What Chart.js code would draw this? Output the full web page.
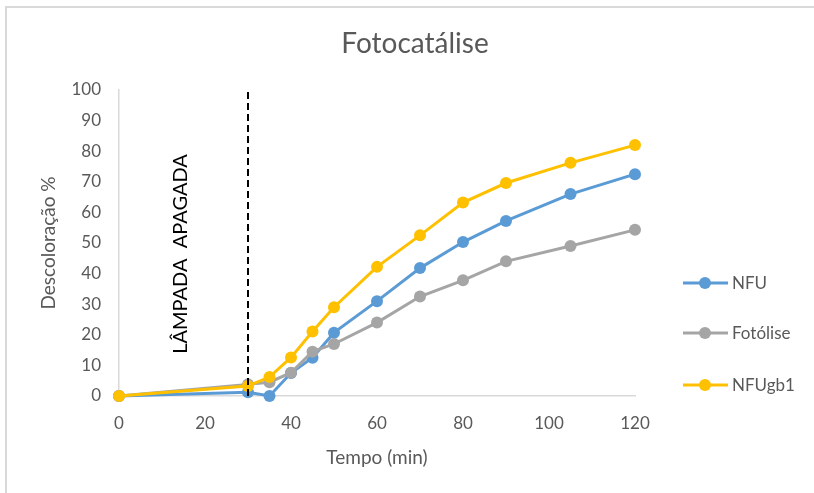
<!DOCTYPE html>
<html lang="pt">
<head>
    <meta charset="UTF-8">
    <title>Fotocatálise</title>
    <script src="https://cdn.jsdelivr.net/npm/chart.js"></script>
    <style>
        body {
            margin: 0;
            background: #ffffff;
        }
        #wrap {
            position: relative;
            width: 814px;
            height: 493px;
        }
        #frame {
            position: absolute;
            left: 5px;
            top: 6px;
            right: 0;
            bottom: 0;
            border-top: 2px solid #d9d9d9;
            border-left: 2px solid #d9d9d9;
            pointer-events: none;
        }
        canvas {
            position: absolute;
            left: 0;
            top: 0;
        }
    </style>
</head>
<body>
<div id="wrap">
    <canvas id="chart" width="814" height="493"></canvas>
    <div id="frame"></div>
</div>

<script>
    // Tempo (min)
    const tempo = [0, 30, 35, 40, 45, 50, 60, 70, 80, 90, 105, 120];

    // Descoloração % por série
    const nfu      = [0, 1.2, 0, 7.5, 12.5, 20.7, 31, 41.8, 50.3, 57.2, 66, 72.5];
    const fotolise = [0, 3.8, 4.5, 7.6, 14.5, 17, 24, 32.5, 37.8, 44, 49, 54.3];
    const nfugb1   = [0, 3.3, 6.2, 12.6, 21.1, 29, 42.2, 52.5, 63.2, 69.6, 76.2, 82];

    // linha da lâmpada apagada
    const lampX = [30, 30];
    const lampY = [0, 100];

    const xTicks = [0, 20, 40, 60, 80, 100, 120];
    const yTicks = [0, 10, 20, 30, 40, 50, 60, 70, 80, 90, 100];

    const seriesNames = ['NFU', 'Fotólise', 'NFUgb1'];
    const seriesColors = ['#5b9bd5', '#a5a5a5', '#ffc000'];

    const FONT = 'Lato, "Open Sans", sans-serif';
    const GREY_TEXT = '#595959';

    function toPoints(xs, ys) {
        return xs.map((x, i) => ({ x: x, y: ys[i] }));
    }

    function serie(i, values) {
        return {
            label: seriesNames[i],
            data: toPoints(tempo, values),
            borderColor: seriesColors[i],
            backgroundColor: seriesColors[i],
            borderWidth: 3,
            pointRadius: 6,
            pointBorderWidth: 0,
            tension: 0,
            clip: false,
            order: 3 - i
        };
    }

    // título centrado na figura toda (não só na área do gráfico)
    const titlePlugin = {
        id: 'bigTitle',
        afterDraw(chart) {
            const ctx = chart.ctx;
            ctx.save();
            ctx.fillStyle = GREY_TEXT;
            ctx.font = '28px ' + FONT;
            ctx.textAlign = 'center';
            ctx.textBaseline = 'middle';
            ctx.fillText('Fotocatálise', 415, 44);
            ctx.restore();
        }
    };

    // legenda estilo Excel (linha + marcador)
    const legendPlugin = {
        id: 'excelLegend',
        afterDraw(chart) {
            const ctx = chart.ctx;
            const rows = [283, 333, 385];
            ctx.save();
            seriesNames.forEach((name, i) => {
                const y = rows[i];
                ctx.strokeStyle = seriesColors[i];
                ctx.lineWidth = 3;
                ctx.beginPath();
                ctx.moveTo(683, y);
                ctx.lineTo(728, y);
                ctx.stroke();
                ctx.fillStyle = seriesColors[i];
                ctx.beginPath();
                ctx.arc(705, y, 6, 0, Math.PI * 2);
                ctx.fill();
                ctx.fillStyle = GREY_TEXT;
                ctx.font = '17px ' + FONT;
                ctx.textBaseline = 'middle';
                ctx.textAlign = 'left';
                ctx.fillText(name, 732, y + 1);
            });
            ctx.restore();
        }
    };

    // texto vertical "LÂMPADA APAGADA"
    const lampLabel = {
        id: 'lampLabel',
        afterDatasetsDraw(chart) {
            const ctx = chart.ctx;
            ctx.save();
            ctx.translate(181, 254);
            ctx.rotate(-Math.PI / 2);
            ctx.fillStyle = '#000000';
            ctx.font = '20px ' + FONT;
            ctx.textAlign = 'center';
            ctx.textBaseline = 'middle';
            ctx.fillText('LÂMPADA  APAGADA', 0, 0);
            ctx.restore();
        }
    };

    new Chart(document.getElementById('chart'), {
        type: 'line',
        data: {
            datasets: [
                serie(0, nfu),
                serie(1, fotolise),
                serie(2, nfugb1),
                {
                    label: 'Lâmpada',
                    data: toPoints(lampX, lampY),
                    borderColor: '#000000',
                    borderWidth: 2,
                    borderDash: [7, 4],
                    pointRadius: 0,
                    order: 0
                }
            ]
        },
        options: {
            responsive: false,
            animation: false,
            layout: { padding: { left: 0, right: 179, top: 90, bottom: 0 } },
            plugins: {
                legend: { display: false },
                tooltip: { enabled: false },
                title: { display: false }
            },
            scales: {
                x: {
                    type: 'linear',
                    min: 0,
                    max: 120,
                    afterBuildTicks: s => { s.ticks = xTicks.map(v => ({ value: v })); },
                    afterFit: s => { s.height = 97; },
                    grid: { display: false, drawTicks: false },
                    border: { display: true, color: '#d9d9d9', width: 1.5 },
                    ticks: {
                        color: GREY_TEXT,
                        font: { family: FONT, size: 17 },
                        padding: 17,
                        maxRotation: 0
                    },
                    title: {
                        display: true,
                        text: 'Tempo (min)',
                        color: GREY_TEXT,
                        font: { family: FONT, size: 19 },
                        padding: { top: 0, bottom: 24 }
                    }
                },
                y: {
                    min: 0,
                    max: 100,
                    afterBuildTicks: s => { s.ticks = yTicks.map(v => ({ value: v })); },
                    afterFit: s => { s.width = 119; },
                    grid: { display: false, drawTicks: false },
                    border: { display: true, color: '#d9d9d9', width: 1.5 },
                    ticks: {
                        color: GREY_TEXT,
                        font: { family: FONT, size: 17 },
                        padding: 18
                    },
                    title: {
                        display: true,
                        text: 'Descoloração %',
                        color: GREY_TEXT,
                        font: { family: FONT, size: 19 },
                        padding: { top: 37, bottom: 0 }
                    }
                }
            }
        },
        plugins: [lampLabel, legendPlugin, titlePlugin]
    });
</script>
</body>
</html>
